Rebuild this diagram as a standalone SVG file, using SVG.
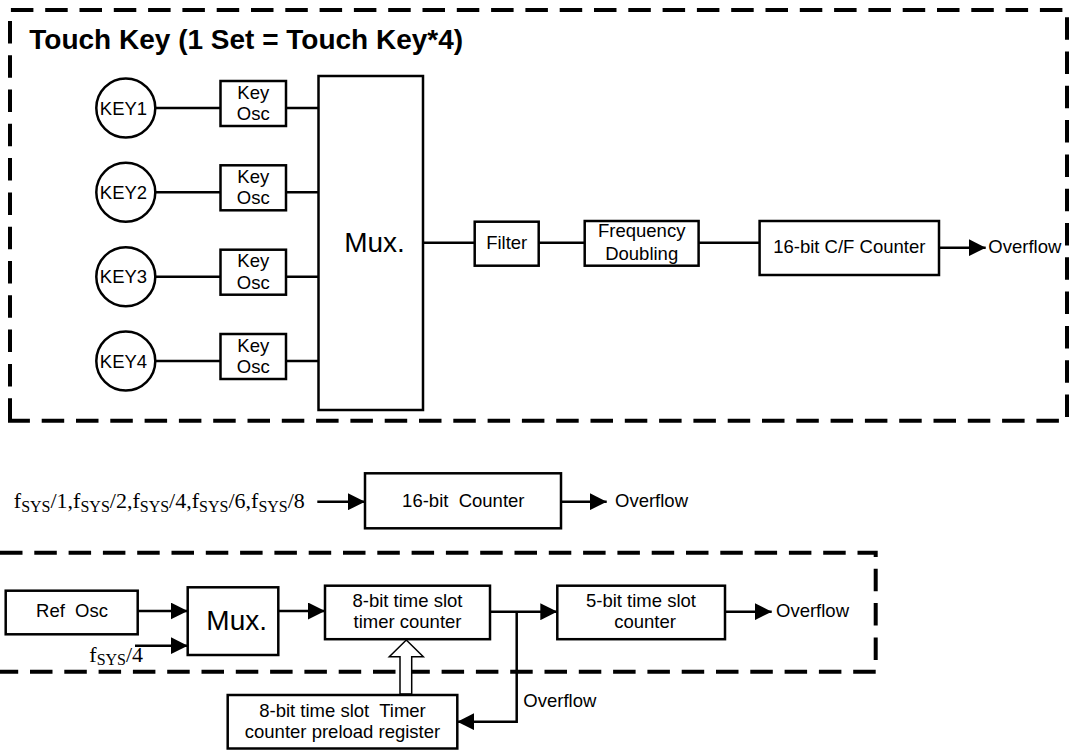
<svg xmlns="http://www.w3.org/2000/svg" width="1069" height="751" viewBox="0 0 1069 751">
<style>
.bx{fill:#fff;stroke:#000;stroke-width:2.5}
.ln{fill:none;stroke:#000;stroke-width:2.5}
.ar{fill:none;stroke:#000;stroke-width:2.5;marker-end:url(#ah)}
.dash{fill:none;stroke:#000;stroke-width:4;stroke-dasharray:22.5 11.8}
.t{font-family:"Liberation Sans",Arial,sans-serif;font-size:18.5px;fill:#000;white-space:pre}
.c{text-anchor:middle}
.big{font-size:28px}
.title{font-family:"Liberation Sans",Arial,sans-serif;font-size:28px;font-weight:bold;fill:#000}
.s{font-family:"Liberation Serif","Times New Roman",serif;font-size:22px;fill:#000}
.sub{font-size:16px}
</style>
<defs>
<marker id="ah" markerUnits="userSpaceOnUse" markerWidth="17" markerHeight="17" refX="17" refY="8.5" orient="auto">
<path d="M0,0 L17,8.5 L0,17 z" fill="#000"/>
</marker>
</defs>
<rect width="1069" height="751" fill="#fff"/>

<g id="frames">
<path class="dash" d="M10,420.7 L10,10 L1067,10 L1067,420.7 Z"/>
<path class="dash" d="M0,552.7 L875.7,552.7 L875.7,671.7 L0,671.7"/>
</g>
<text class="title" x="29.3" y="49.3">Touch Key (1 Set = Touch Key*4)</text>

<g id="connectors">
<line class="ln" x1="155.5" y1="108" x2="220.5" y2="108"/>
<line class="ln" x1="286" y1="108" x2="318.5" y2="108"/>
<line class="ln" x1="155.5" y1="192.3" x2="220.5" y2="192.3"/>
<line class="ln" x1="286" y1="192.3" x2="318.5" y2="192.3"/>
<line class="ln" x1="155.5" y1="276.7" x2="220.5" y2="276.7"/>
<line class="ln" x1="286" y1="276.7" x2="318.5" y2="276.7"/>
<line class="ln" x1="155.5" y1="361" x2="220.5" y2="361"/>
<line class="ln" x1="286" y1="361" x2="318.5" y2="361"/>
<line class="ln" x1="423" y1="242.7" x2="474.7" y2="242.7"/>
<line class="ln" x1="538.7" y1="242.7" x2="584.7" y2="242.7"/>
<line class="ln" x1="698.6" y1="242.7" x2="759.6" y2="242.7"/>
<line class="ar" x1="939" y1="247.7" x2="985.7" y2="247.7"/>
<line class="ar" x1="317.3" y1="501.7" x2="365" y2="501.7"/>
<line class="ar" x1="561" y1="501.7" x2="606.7" y2="501.7"/>
<line class="ar" x1="137.7" y1="611" x2="187.7" y2="611"/>
<line class="ar" x1="135" y1="645.7" x2="187.7" y2="645.7"/>
<line class="ar" x1="278.3" y1="611" x2="325" y2="611"/>
<line class="ar" x1="490" y1="611.7" x2="557.3" y2="611.7"/>
<line class="ar" x1="725" y1="611.7" x2="771.7" y2="611.7"/>
<polyline class="ar" points="516.7,611.7 516.7,721.7 457.3,721.7"/>
<polygon points="400,694 400,656.7 389.3,656.7 406.3,640 423.3,656.7 411.7,656.7 411.7,694" fill="#fff" stroke="#000" stroke-width="1.5"/>
</g>

<g id="key1"><circle class="bx" cx="125.8" cy="108" r="29.5"/><text class="t c" x="123.5" y="114.5">KEY1</text></g>
<g id="key2"><circle class="bx" cx="125.8" cy="192.3" r="29.5"/><text class="t c" x="123.5" y="198.8">KEY2</text></g>
<g id="key3"><circle class="bx" cx="125.8" cy="276.7" r="29.5"/><text class="t c" x="123.5" y="283.2">KEY3</text></g>
<g id="key4"><circle class="bx" cx="125.8" cy="361" r="29.5"/><text class="t c" x="123.5" y="367.5">KEY4</text></g>

<g id="osc1"><rect class="bx" x="220.5" y="81" width="65.5" height="45"/><text class="t c" x="253.3" y="98.5">Key</text><text class="t c" x="253.3" y="120">Osc</text></g>
<g id="osc2"><rect class="bx" x="220.5" y="165.3" width="65.5" height="45"/><text class="t c" x="253.3" y="182.8">Key</text><text class="t c" x="253.3" y="204.3">Osc</text></g>
<g id="osc3"><rect class="bx" x="220.5" y="249.7" width="65.5" height="45"/><text class="t c" x="253.3" y="267.2">Key</text><text class="t c" x="253.3" y="288.7">Osc</text></g>
<g id="osc4"><rect class="bx" x="220.5" y="334" width="65.5" height="45"/><text class="t c" x="253.3" y="351.5">Key</text><text class="t c" x="253.3" y="373">Osc</text></g>

<g id="mux1"><rect class="bx" x="318.5" y="76" width="104.5" height="334"/><text class="t c big" x="374.5" y="251.7">Mux.</text></g>
<g id="filter"><rect class="bx" x="474.7" y="221.7" width="64" height="44"/><text class="t c" x="506.7" y="249.3">Filter</text></g>
<g id="freq"><rect class="bx" x="584.7" y="221" width="113.9" height="44.7"/><text class="t c" x="641.7" y="236.7">Frequency</text><text class="t c" x="641.7" y="260">Doubling</text></g>
<g id="cfcounter"><rect class="bx" x="759.6" y="221" width="179.4" height="54"/><text class="t c" x="849.3" y="252.7">16-bit C/F Counter</text></g>
<text class="t" x="988.3" y="253.3">Overflow</text>

<text class="s" x="13.8" y="508.3">f<tspan class="sub" dy="3.4">SYS</tspan><tspan dy="-3.4">/1,f</tspan><tspan class="sub" dy="3.4">SYS</tspan><tspan dy="-3.4">/2,f</tspan><tspan class="sub" dy="3.4">SYS</tspan><tspan dy="-3.4">/4,f</tspan><tspan class="sub" dy="3.4">SYS</tspan><tspan dy="-3.4">/6,f</tspan><tspan class="sub" dy="3.4">SYS</tspan><tspan dy="-3.4">/8</tspan></text>
<g id="counter16"><rect class="bx" x="365" y="473.3" width="196" height="55"/><text class="t c" x="463.3" y="506.7">16-bit  Counter</text></g>
<text class="t" x="615" y="506.7">Overflow</text>

<g id="refosc"><rect class="bx" x="5.7" y="590.7" width="132" height="43.6"/><text class="t c" x="72" y="617.3">Ref  Osc</text></g>
<text class="s" x="89.3" y="661.7">f<tspan class="sub" dy="3">SYS</tspan><tspan dy="-3">/4</tspan></text>
<g id="mux2"><rect class="bx" x="187.7" y="587.3" width="90.6" height="67.7"/><text class="t c big" x="236.7" y="630">Mux.</text></g>
<g id="timer8"><rect class="bx" x="325" y="585.7" width="165" height="53.5"/><text class="t c" x="407.5" y="606.7">8-bit time slot</text><text class="t c" x="407.5" y="628.3">timer counter</text></g>
<g id="slot5"><rect class="bx" x="557.3" y="585.7" width="167.7" height="53.5"/><text class="t c" x="641" y="606.7">5-bit time slot</text><text class="t c" x="645" y="628.3">counter</text></g>
<text class="t" x="776" y="616.7">Overflow</text>
<text class="t" x="523.3" y="706.7">Overflow</text>
<g id="preload"><rect class="bx" x="227.7" y="695" width="229.6" height="53.5"/><text class="t c" x="342.5" y="716.7">8-bit time slot  Timer</text><text class="t c" x="342.5" y="738.3">counter preload register</text></g>
</svg>
